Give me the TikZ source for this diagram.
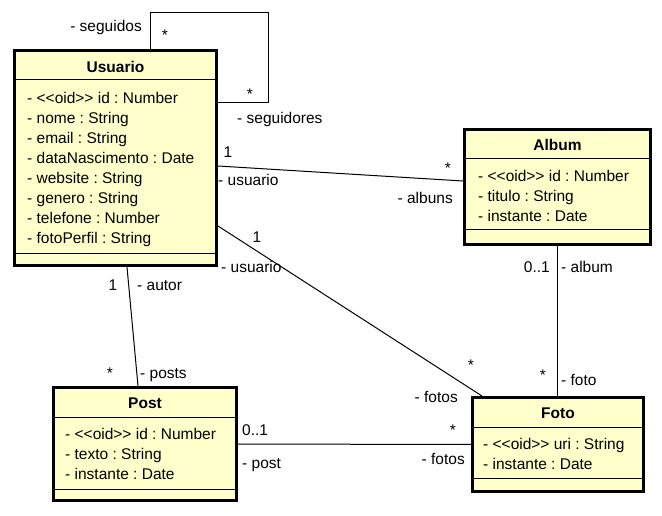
\documentclass[tikz,border=0pt]{standalone}
\usepackage{fontspec}
\setmainfont{Liberation Sans}
\definecolor{classfill}{HTML}{FFFFCC}
\tikzset{
  classbox/.style={draw=black, line width=3pt, fill=classfill, rectangle, inner sep=0pt},
  sepline/.style={line width=1pt, draw=black},
  conn/.style={line width=1pt, draw=black},
  txt/.style={inner sep=0pt, font=\fontsize{15.5}{18}\selectfont\frenchspacing},
  ttl/.style={inner sep=0pt, anchor=base, font=\fontsize{15.5}{18}\selectfont\bfseries},
  attr/.style={txt, anchor=base west},
  lbl/.style={txt, anchor=base west},
  lblr/.style={txt, anchor=base east},
  lblc/.style={txt, anchor=base},
}
\begin{document}
\begin{tikzpicture}[x=1pt,y=-1pt]
\useasboundingbox (0,0) rectangle (662,516);
% class boxes
\node[classbox, minimum width=202pt, minimum height=215pt] (usuario) at (115.5,158) {};
\node[classbox, minimum width=186pt, minimum height=115pt] (album) at (557.5,187) {};
\node[classbox, minimum width=183pt, minimum height=113pt] (post) at (145,444) {};
\node[classbox, minimum width=171pt, minimum height=94pt] (foto) at (558,444.5) {};
% separators
\draw[sepline] (usuario.west |- 0,80) -- (usuario.east |- 0,80);
\draw[sepline] (usuario.west |- 0,253) -- (usuario.east |- 0,253);
\draw[sepline] (album.west |- 0,159) -- (album.east |- 0,159);
\draw[sepline] (album.west |- 0,230) -- (album.east |- 0,230);
\draw[sepline] (post.west |- 0,417) -- (post.east |- 0,417);
\draw[sepline] (post.west |- 0,489) -- (post.east |- 0,489);
\draw[sepline] (foto.west |- 0,427) -- (foto.east |- 0,427);
\draw[sepline] (foto.west |- 0,478) -- (foto.east |- 0,478);
% titles
\node[ttl] (usuariot) at (115.5,72.5) {Usuario};
\node[ttl] (albumt) at (557.5,150.5) {Album};
\node[ttl] (postt) at (145,408.5) {Post};
\node[ttl] (fotot) at (558,418.5) {Foto};
% attributes
\node[attr] (u1) at (27,103.5) {- <{}<oid>{}> id : Number};
\node[attr] (u2) at (27,123.5) {- nome : String};
\node[attr] (u3) at (27,143.5) {- email : String};
\node[attr] (u4) at (27,163.5) {- dataNascimento : Date};
\node[attr] (u5) at (27,183.5) {- website : String};
\node[attr] (u6) at (27,203.5) {- genero : String};
\node[attr] (u7) at (27,223.5) {- telefone : Number};
\node[attr] (u8) at (27,243.5) {- fotoPerfil : String};
\node[attr] (a1) at (478,181.5) {- <{}<oid>{}> id : Number};
\node[attr] (a2) at (478,201.5) {- titulo : String};
\node[attr] (a3) at (478,221.5) {- instante : Date};
\node[attr] (p1) at (65,439.5) {- <{}<oid>{}> id : Number};
\node[attr] (p2) at (65,459.5) {- texto : String};
\node[attr] (p3) at (65,479.5) {- instante : Date};
\node[attr] (f1) at (483,449.5) {- <{}<oid>{}> uri : String};
\node[attr] (f2) at (483,469.5) {- instante : Date};
% connectors
\coordinate (loopc) at (268,13);
\draw[conn] (usuario.north -| 150,0) |- (loopc) |- (usuario.east |- 0,103);
\draw[conn] (usuario.east |- 0,166) -- (album.west |- 0,181);
\draw[conn] (usuario.east |- 0,226) -- (foto.north -| 482,0);
\draw[conn] (album.south -| 557,0) -- (foto.north -| 557,0);
\draw[conn] (usuario.south -| 127,0) -- (post.north -| 138,0);
\draw[conn] (post) -- (foto);
% labels
\node[lblr] (l1) at (142,31.5) {- seguidos};
\node[lblc] (l2) at (165,40.5) {*};
\node[lblc] (l3) at (250,99.5) {*};
\node[lbl] (l4) at (237,123.5) {- seguidores};
\node[lblc] (l5) at (228,157.5) {1};
\node[lbl] (l6) at (218,185.5) {- usuario};
\node[lblc] (l7) at (448,173.5) {*};
\node[lblr] (l8) at (453,203.5) {- albuns};
\node[lblc] (l9) at (257,242.5) {1};
\node[lbl] (l10) at (221,272.5) {- usuario};
\node[lblc] (l11) at (471,370.5) {*};
\node[lblr] (l12) at (458,402.5) {- fotos};
\node[lblr] (l13) at (550,272.5) {0..1};
\node[lbl] (l14) at (561,272.5) {- album};
\node[lblc] (l15) at (543,380.5) {*};
\node[lbl] (l16) at (561,385.5) {- foto};
\node[lblc] (l17) at (113,290.5) {1};
\node[lbl] (l18) at (137,290.5) {- autor};
\node[lblc] (l19) at (110,378.5) {*};
\node[lbl] (l20) at (140,378.5) {- posts};
\node[lbl] (l21) at (242,435.5) {0..1};
\node[lbl] (l22) at (242,468.5) {- post};
\node[lblc] (l23) at (453,435.5) {*};
\node[lblr] (l24) at (465,464.5) {- fotos};
\end{tikzpicture}
\end{document}
